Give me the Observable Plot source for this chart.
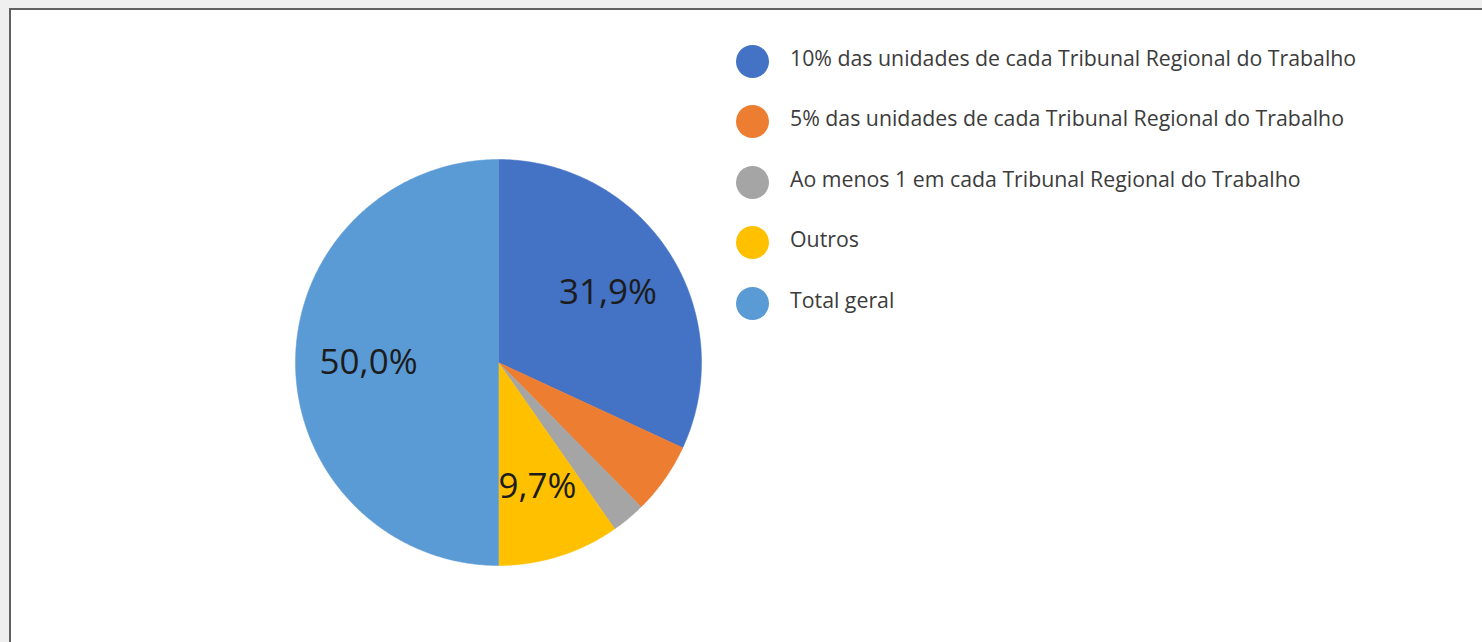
<!DOCTYPE html>
<html>
<head>
<meta charset="utf-8">
<script src="https://cdn.jsdelivr.net/npm/d3@7"></script>
<script src="https://cdn.jsdelivr.net/npm/@observablehq/plot@0.6"></script>
<style>
  html, body { margin: 0; padding: 0; background: #efefef; width: 1482px; height: 642px; overflow: hidden; }
  #frame { position: absolute; left: 9px; top: 8px; width: 1490px; height: 660px; background: #fff;
           border-left: 2px solid #616161; border-top: 2px solid #616161; }
  #chart { position: absolute; left: 0; top: 0; }
  #legend { position: absolute; left: 736px; top: 0; font-family: "Open Sans", sans-serif; font-size: 21.3px; color: #3c3c3c; }
  .item { position: absolute; left: 0; white-space: nowrap; display: flex; align-items: center; height: 34px; }
  .sw { width: 33px; height: 33px; border-radius: 50%; margin-right: 21px; flex: none; }
  .tx { position: relative; top: -4px; }
</style>
</head>
<body>
<div id="frame"></div>
<div id="chart"></div>
<div id="legend"></div>
<script>
const categories = [
  "10% das unidades de cada Tribunal Regional do Trabalho",
  "5% das unidades de cada Tribunal Regional do Trabalho",
  "Ao menos 1 em cada Tribunal Regional do Trabalho",
  "Outros",
  "Total geral"
];
const values = [31.9, 5.7, 2.7, 9.7, 50.0];
const colors = ["#4472C4", "#ED7D31", "#A5A5A5", "#FFC000", "#5B9BD5"];
const showLabel = [true, false, false, true, true];

const pie = d3.pie().sort(null).value(d => d.value);
const rows = categories.map((c, i) => ({key: c, value: values[i], color: colors[i], show: showLabel[i]}));
const arcs = pie(rows);

// slice outlines as polygons in unit-circle coordinates (angle clockwise from top)
const poly = [];
arcs.forEach(a => {
  poly.push({key: a.data.key, x: 0, y: 0});
  const n = Math.max(2, Math.ceil((a.endAngle - a.startAngle) / 0.01));
  for (let k = 0; k <= n; k++) {
    const t = a.startAngle + (a.endAngle - a.startAngle) * k / n;
    poly.push({key: a.data.key, x: Math.sin(t), y: Math.cos(t)});
  }
  poly.push({key: a.data.key, x: 0, y: 0});
});
const labelR = 0.64;
const labels = arcs.filter(a => a.data.show).map(a => {
  const m = (a.startAngle + a.endAngle) / 2;
  return {x: labelR * Math.sin(m), y: labelR * Math.cos(m),
          text: a.data.value.toFixed(1).replace(".", ",") + "%"};
});

const chart = Plot.plot({
  width: 1482,
  height: 642,
  marginLeft: 295, marginRight: 781, marginTop: 159, marginBottom: 77,
  x: {domain: [-1, 1], axis: null},
  y: {domain: [-1, 1], axis: null},
  style: {background: "transparent", overflow: "visible"},
  marks: [
    Plot.line(poly, {x: "x", y: "y", z: "key", fill: d => colors[categories.indexOf(d.key)],
                     stroke: d => colors[categories.indexOf(d.key)], strokeWidth: 0.5, curve: "linear"}),
    Plot.text(labels, {x: "x", y: "y", text: "text", fontSize: 35, fill: "#1c1c1c",
                       fontFamily: "Open Sans, sans-serif"})
  ]
});
document.getElementById("chart").appendChild(chart);

const legend = document.getElementById("legend");
const rowY = [61, 121, 182, 242, 303];
categories.forEach((c, i) => {
  const it = document.createElement("div");
  it.className = "item";
  it.style.top = (rowY[i] - 17) + "px";
  it.innerHTML = `<span class="sw" style="background:${colors[i]}"></span><span class="tx">${c}</span>`;
  legend.appendChild(it);
});
</script>
</body>
</html>
